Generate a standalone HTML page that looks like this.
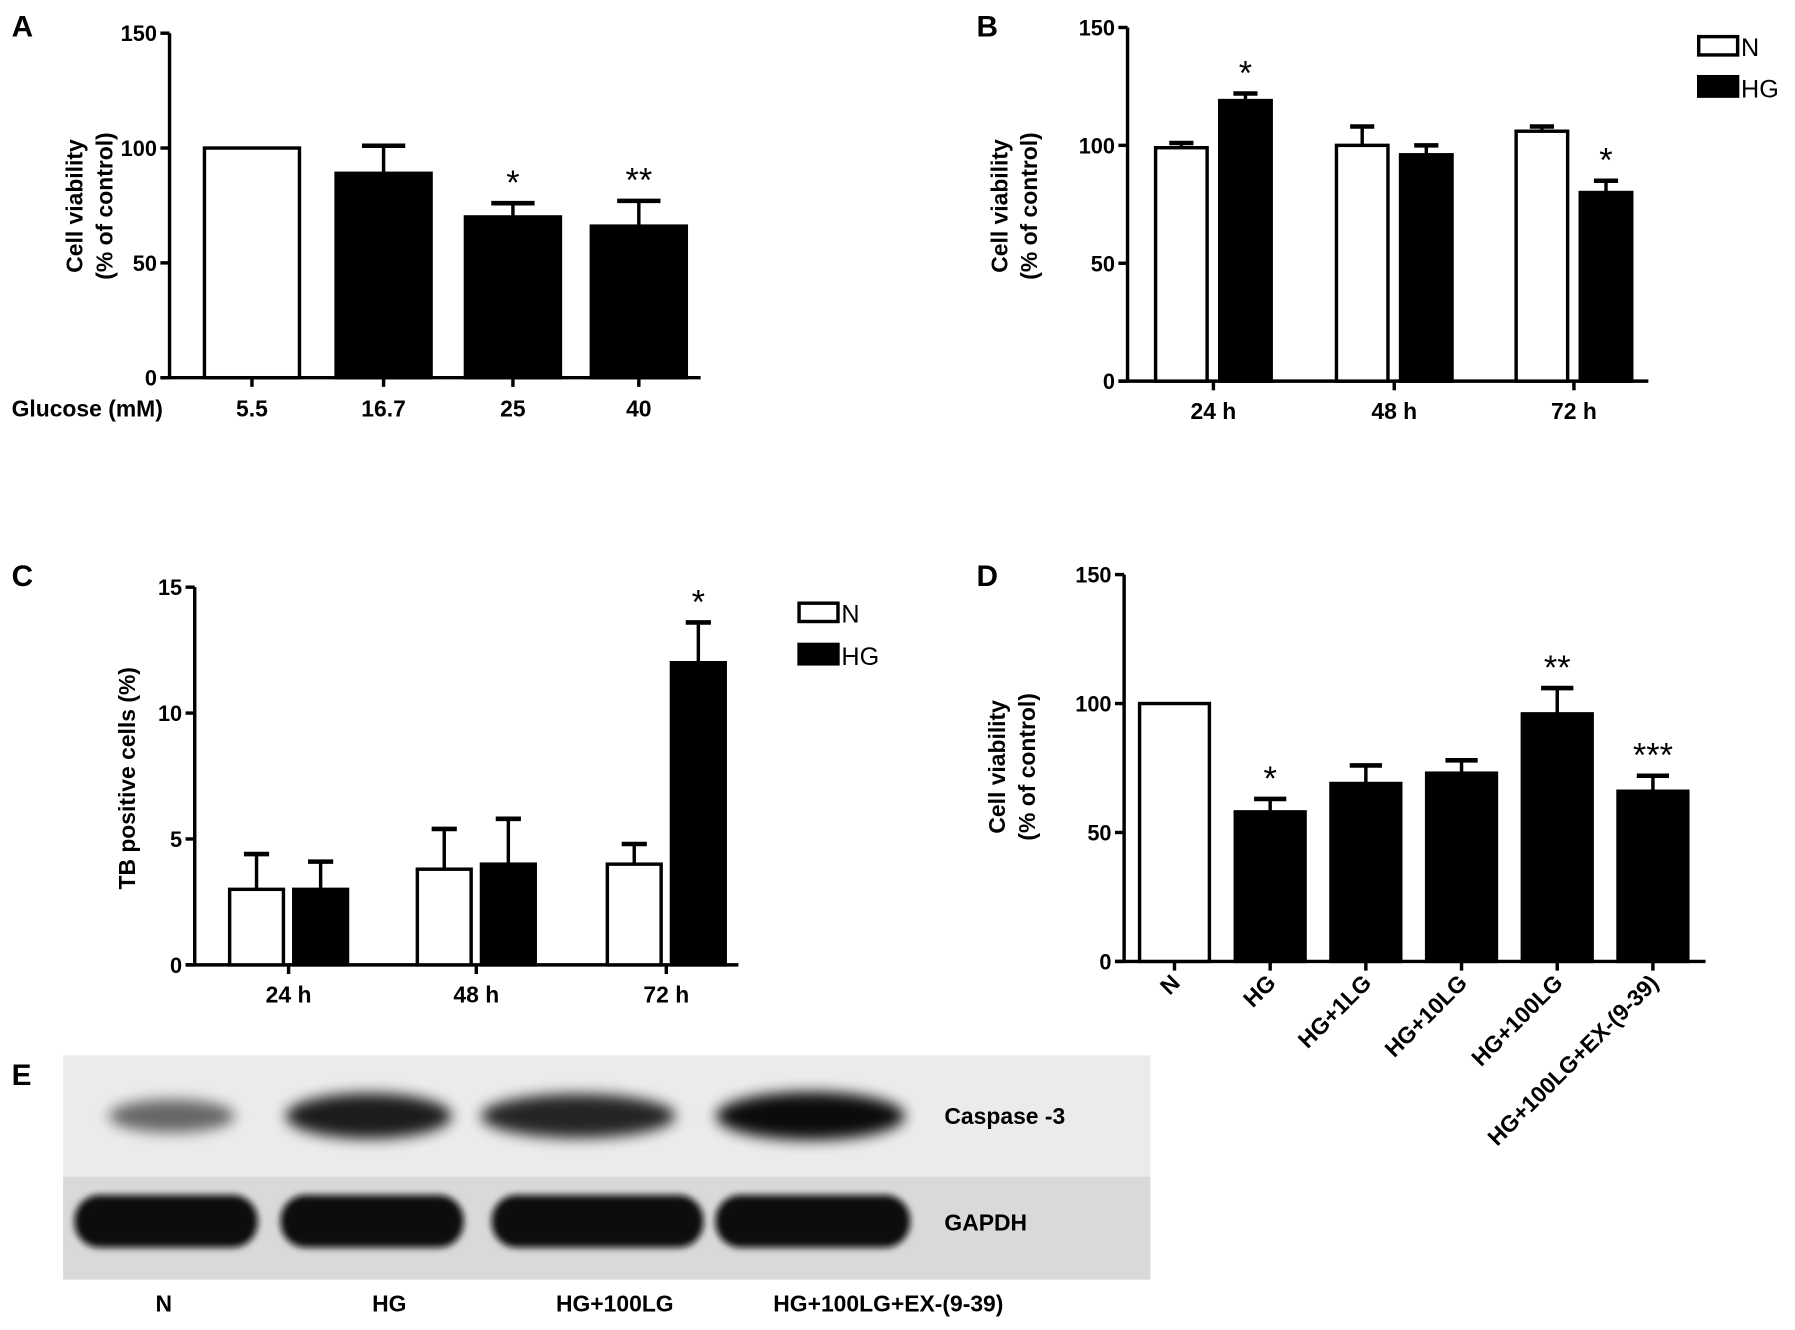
<!DOCTYPE html>
<html><head><meta charset="utf-8">
<style>
html,body{margin:0;padding:0;background:#fff;}
svg{display:block;font-family:"Liberation Sans",Arial,sans-serif;font-weight:bold;}
</style></head>
<body>
<svg id="fig" width="1795" height="1330" viewBox="0 0 1568 1162" xmlns="http://www.w3.org/2000/svg">
<defs>
<filter id="blur6" x="-20%" y="-50%" width="140%" height="200%"><feGaussianBlur stdDeviation="6"/></filter>
<filter id="blur3" x="-20%" y="-50%" width="140%" height="200%"><feGaussianBlur stdDeviation="3"/></filter>
</defs>
<g id="root"></g>
</svg>
<script>
// Panel A data
const aCats = ["5.5","16.7","25","40"];
const aVals = [100, 89, 70, 66];
const aErr = [0, 12, 6, 11];
const aFill = ["w","b","b","b"];
const aStars = ["","","*","**"];
const aTicks = [0,50,100,150];
// Panel B data
const bCats = ["24 h","48 h","72 h"];
const bN = [99, 100, 106];
const bNErr = [2, 8, 2];
const bHG = [119, 96, 80];
const bHGErr = [3, 4, 5];
const bStars = ["*","","*"];
const bTicks = [0,50,100,150];
// Panel C data
const cCats = ["24 h","48 h","72 h"];
const cN = [3, 3.8, 4];
const cNErr = [1.4, 1.6, 0.8];
const cHG = [3, 4, 12];
const cHGErr = [1.1, 1.8, 1.6];
const cStars = ["","","*"];
const cTicks = [0,5,10,15];
// Panel D data
const dCats = ["N","HG","HG+1LG","HG+10LG","HG+100LG","HG+100LG+EX-(9-39)"];
const dVals = [100, 58, 69, 73, 96, 66];
const dErr = [0, 5, 7, 5, 10, 6];
const dFill = ["w","b","b","b","b","b"];
const dStars = ["","*","","","**","***"];
const dTicks = [0,50,100,150];

const NS="http://www.w3.org/2000/svg";
const root=document.getElementById('root');
function mk(tag,attrs,parent,text){const e=document.createElementNS(NS,tag);for(const k in attrs)e.setAttribute(k,attrs[k]);if(text!==undefined)e.textContent=text;(parent||root).appendChild(e);return e;}
function grp(name){const g=mk('g',{});


return g;}

function axes(g,x0,x1,y0,yTop,max,ticks,fs){
  const ys=v=>y0-(y0-yTop)*v/max;
  const ya=mk('line',{x1:x0,x2:x0,y1:y0,y2:yTop,stroke:'#000','stroke-width':3},g);
  
  
  const xa=mk('line',{x1:x0-8,x2:x1,y1:y0,y2:y0,stroke:'#000','stroke-width':3},g);
  
  
  ticks.forEach(t=>{
    mk('line',{x1:x0-8,x2:x0,y1:ys(t),y2:ys(t),stroke:'#000','stroke-width':3},g);
    const tl=mk('text',{x:x0-11,y:ys(t)+7,'text-anchor':'end','font-size':fs||19},g,String(t));
    
    
  });
  return ys;
}
function bar(g,cx,w,v,err,fill,ys,name){
  if(err>0){mk('line',{x1:cx,x2:cx,y1:ys(v),y2:ys(v+err),stroke:'#000','stroke-width':3},g);
    mk('line',{x1:cx-w*0.22,x2:cx+w*0.22,y1:ys(v+err),y2:ys(v+err),stroke:'#000','stroke-width':4},g);}
  const r=mk('rect',{x:cx-w/2+1.5,y:ys(v),width:w-3,height:ys(0)-ys(v),fill:fill==='w'?'#fff':'#000',stroke:'#000','stroke-width':3},g);
  
  
}
function star(g,x,y,s){if(!s)return;const t=mk('text',{x:x,y:y+4,'text-anchor':'middle','font-size':30,'font-weight':'normal'},g,s);
  
  }
function ylab(g,x,cy,lines,fs){lines.forEach((l,i)=>{const t=mk('text',{x:0,y:0,'text-anchor':'middle','font-size':fs||20,transform:`translate(${x+i*26},${cy}) rotate(-90)`},g,l);
  
  });}
function letter(g,x,y,s){const t=mk('text',{x:x,y:y,'font-size':26},g,s);
  
  }
function legend(g,x,y1,y2){
  mk('rect',{x:x,y:y1,width:34,height:16,fill:'#fff',stroke:'#000','stroke-width':3},g);
  mk('rect',{x:x,y:y2,width:34,height:17,fill:'#000',stroke:'#000','stroke-width':3},g);
  const a=mk('text',{x:x+37,y:y1+17,'font-size':22,'font-weight':'normal'},g,'N');
  
  
  const b=mk('text',{x:x+37,y:y2+18,'font-size':22,'font-weight':'normal'},g,'HG');
  
  
}

// Panel A
(function(){const g=grp('panel-a-chart');letter(g,10,32,'A');
  const ys=axes(g,148,612,330,29,150,aTicks);
  const cx=[220,335,448,558];
  aCats.forEach((c,i)=>{bar(g,cx[i],86,aVals[i],aErr[i],aFill[i],ys,'bar-'+c);
    mk('line',{x1:cx[i],x2:cx[i],y1:330,y2:338,stroke:'#000','stroke-width':3},g);
    const t=mk('text',{x:cx[i],y:364,'text-anchor':'middle','font-size':20},g,c);
    
    
    star(g,cx[i],ys(aVals[i]+aErr[i])-12,aStars[i]);});
  const gl=mk('text',{x:10,y:364,'font-size':20},g,'Glucose (mM)');
  
  
  ylab(g,72,180,['Cell viability','(% of control)']);
})();
// Panel B
(function(){const g=grp('panel-b-chart');letter(g,853,32,'B');
  const ys=axes(g,985,1440,333,24,150,bTicks);
  const cx=[1060,1218,1375];
  bCats.forEach((c,i)=>{bar(g,cx[i]-28,48,bN[i],bNErr[i],'w',ys,'bar-n-'+c);
    bar(g,cx[i]+28,48,bHG[i],bHGErr[i],'b',ys,'bar-hg-'+c);
    mk('line',{x1:cx[i],x2:cx[i],y1:333,y2:341,stroke:'#000','stroke-width':3},g);
    const t=mk('text',{x:cx[i],y:366,'text-anchor':'middle','font-size':20},g,c);
    
    
    star(g,cx[i]+28,ys(bHG[i]+bHGErr[i])-12,bStars[i]);});
  legend(g,1484,32,67);
  ylab(g,880,180,['Cell viability','(% of control)']);
})();
// Panel C
(function(){const g=grp('panel-c-chart');letter(g,10,512,'C');
  const ys=axes(g,170,645,843,513,15,cTicks);
  const cx=[252,416,582];
  cCats.forEach((c,i)=>{bar(g,cx[i]-28,50,cN[i],cNErr[i],'w',ys,'bar-n-'+c);
    bar(g,cx[i]+28,50,cHG[i],cHGErr[i],'b',ys,'bar-hg-'+c);
    mk('line',{x1:cx[i],x2:cx[i],y1:843,y2:851,stroke:'#000','stroke-width':3},g);
    const t=mk('text',{x:cx[i],y:876,'text-anchor':'middle','font-size':20},g,c);
    
    
    star(g,cx[i]+28,ys(cHG[i]+cHGErr[i])-12,cStars[i]);});
  legend(g,698,527,563);
  ylab(g,118,680,['TB positive cells (%)']);
})();
// Panel D
(function(){const g=grp('panel-d-chart');letter(g,853,512,'D');
  const ys=axes(g,982,1490,840,502,150,dTicks);
  dCats.forEach((c,i)=>{const cx=1026+i*83.6;
    bar(g,cx,64,dVals[i],dErr[i],dFill[i],ys,'bar-'+c);
    mk('line',{x1:cx,x2:cx,y1:840,y2:848,stroke:'#000','stroke-width':3},g);
    const t=mk('text',{x:0,y:0,'text-anchor':'end','font-size':20,transform:`translate(${cx+6},${860}) rotate(-45)`},g,c);
    
    
    star(g,cx,ys(dVals[i]+dErr[i])-12,dStars[i]);});
  ylab(g,878,670,['Cell viability','(% of control)']);
})();
// Panel E: western blot
const eLanes = ["N","HG","HG+100LG","HG+100LG+EX-(9-39)"];
const eCasp = [0.45, 0.9, 0.85, 1.0];
const eGapdh = [1, 1, 1, 1];
(function(){const g=grp('panel-e-blot');letter(g,10,948,'E');
  const top=mk('rect',{x:55,y:922,width:950,height:106,fill:'#ebebeb'},g);
  
  
  const bot=mk('rect',{x:55,y:1028,width:950,height:90,fill:'#d9d9d9'},g);
  
  
  const cL=[150,322,505,708], cW=[110,145,170,165];
  const gL=[145,325,522,710], gW=[160,160,185,170];
  eLanes.forEach((l,i)=>{
    const b1=mk('ellipse',{cx:cL[i],cy:975,rx:cW[i]/2,ry:9+12*eCasp[i],fill:'#000',opacity:0.25+0.7*eCasp[i],filter:'url(#blur6)'},g);
    
    
    const b2=mk('rect',{x:gL[i]-gW[i]/2,y:1044,width:gW[i],height:46*eGapdh[i],rx:22,fill:'#0a0a0a',filter:'url(#blur3)'},g);
    
    
  });
  const lx=[143,340,537,776];
  eLanes.forEach((l,i)=>{const t=mk('text',{x:lx[i],y:1146,'text-anchor':'middle','font-size':20},g,l);
    
    });
  const c3=mk('text',{x:825,y:982,'font-size':20},g,'Caspase -3');
  
  
  const gp=mk('text',{x:825,y:1075,'font-size':20},g,'GAPDH');
  
  
})();
</script>
</body></html>
